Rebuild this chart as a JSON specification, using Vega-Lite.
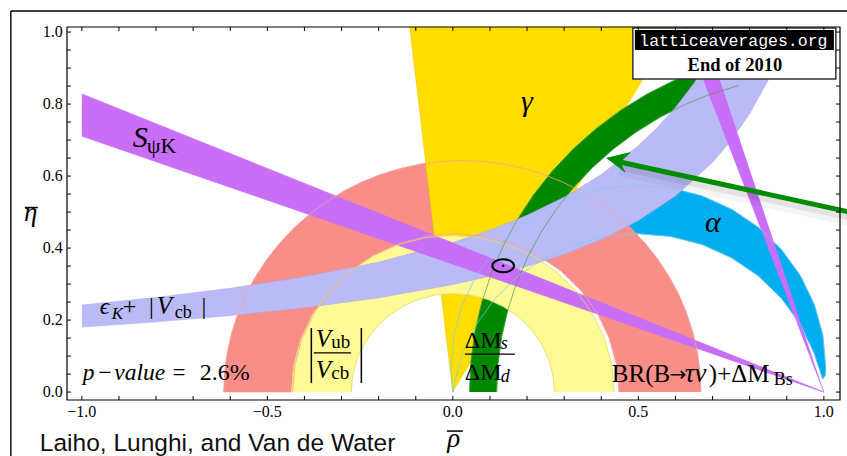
{
  "$schema": "https://vega.github.io/schema/vega-lite/v6.json",
  "width": 773,
  "height": 373,
  "autosize": "none",
  "padding": {"left": 67, "top": 27, "right": 7, "bottom": 56},
  "background": "white",
  "config": {"view": {"stroke": null}},
  "data": {"values": [{}]},
  "datasets": {
    "alpha": [
      {"i":0,"rho":0,"eta":0},{"i":1,"rho":-0.0049,"eta":0.07},{"i":2,"rho":0.0028,"eta":0.1577},{"i":3,"rho":0.0255,"eta":0.2427},
      {"i":4,"rho":0.0628,"eta":0.3225},{"i":5,"rho":0.1132,"eta":0.3945},{"i":6,"rho":0.1755,"eta":0.4568},{"i":7,"rho":0.2476,"eta":0.5072},
      {"i":8,"rho":0.3273,"eta":0.5445},{"i":9,"rho":0.4123,"eta":0.5672},{"i":10,"rho":0.5,"eta":0.5749},{"i":11,"rho":0.5877,"eta":0.5672},
      {"i":12,"rho":0.6727,"eta":0.5445},{"i":13,"rho":0.7524,"eta":0.5072},{"i":14,"rho":0.8245,"eta":0.4568},{"i":15,"rho":0.8868,"eta":0.3945},
      {"i":16,"rho":0.9372,"eta":0.3225},{"i":17,"rho":0.9745,"eta":0.2427},{"i":18,"rho":0.9972,"eta":0.1577},{"i":19,"rho":1.0049,"eta":0.07},
      {"i":20,"rho":1.0035,"eta":0.047},{"i":21,"rho":0.997,"eta":0.036},
      {"i":22,"rho":0.9737,"eta":0.1084},{"i":23,"rho":0.9366,"eta":0.1881},{"i":24,"rho":0.8861,"eta":0.26},{"i":25,"rho":0.824,"eta":0.3221},
      {"i":26,"rho":0.7521,"eta":0.3726},{"i":27,"rho":0.6724,"eta":0.4097},{"i":28,"rho":0.5875,"eta":0.4324},{"i":29,"rho":0.5,"eta":0.4401},
      {"i":30,"rho":0.4125,"eta":0.4324},{"i":31,"rho":0.3276,"eta":0.4097},{"i":32,"rho":0.2479,"eta":0.3726},{"i":33,"rho":0.176,"eta":0.3221},
      {"i":34,"rho":0.1139,"eta":0.26},{"i":35,"rho":0.0634,"eta":0.1881},{"i":36,"rho":0.0263,"eta":0.1084},{"i":37,"rho":0.0036,"eta":0.0235},
      {"i":38,"rho":0,"eta":0}
    ],
    "red": [
      {"i":0,"rho":0.6686,"eta":0},{"i":1,"rho":0.6662,"eta":0.0561},{"i":2,"rho":0.6588,"eta":0.1117},{"i":3,"rho":0.6467,"eta":0.1664},
      {"i":4,"rho":0.6298,"eta":0.2199},{"i":5,"rho":0.6084,"eta":0.2717},{"i":6,"rho":0.5824,"eta":0.3215},{"i":7,"rho":0.5523,"eta":0.3688},
      {"i":8,"rho":0.5181,"eta":0.4133},{"i":9,"rho":0.4803,"eta":0.4547},{"i":10,"rho":0.4389,"eta":0.4925},{"i":11,"rho":0.3944,"eta":0.5267},
      {"i":12,"rho":0.3471,"eta":0.5568},{"i":13,"rho":0.2973,"eta":0.5828},{"i":14,"rho":0.2455,"eta":0.6042},{"i":15,"rho":0.192,"eta":0.6211},
      {"i":16,"rho":0.1373,"eta":0.6332},{"i":17,"rho":0.0817,"eta":0.6406},{"i":18,"rho":0.0256,"eta":0.643},{"i":19,"rho":-0.0305,"eta":0.6406},
      {"i":20,"rho":-0.0861,"eta":0.6332},{"i":21,"rho":-0.1408,"eta":0.6211},{"i":22,"rho":-0.1943,"eta":0.6042},{"i":23,"rho":-0.2461,"eta":0.5828},
      {"i":24,"rho":-0.2959,"eta":0.5568},{"i":25,"rho":-0.3432,"eta":0.5267},{"i":26,"rho":-0.3877,"eta":0.4925},{"i":27,"rho":-0.4291,"eta":0.4547},
      {"i":28,"rho":-0.4669,"eta":0.4133},{"i":29,"rho":-0.5011,"eta":0.3688},{"i":30,"rho":-0.5312,"eta":0.3215},{"i":31,"rho":-0.5572,"eta":0.2717},
      {"i":32,"rho":-0.5786,"eta":0.2199},{"i":33,"rho":-0.5955,"eta":0.1664},{"i":34,"rho":-0.6076,"eta":0.1117},{"i":35,"rho":-0.615,"eta":0.0561},
      {"i":36,"rho":-0.6174,"eta":0},
      {"i":37,"rho":-0.432,"eta":0},{"i":38,"rho":-0.4253,"eta":0.0764},{"i":39,"rho":-0.4055,"eta":0.1505},{"i":40,"rho":-0.373,"eta":0.22},
      {"i":41,"rho":-0.329,"eta":0.2828},{"i":42,"rho":-0.2748,"eta":0.337},{"i":43,"rho":-0.212,"eta":0.381},{"i":44,"rho":-0.1425,"eta":0.4135},
      {"i":45,"rho":-0.0684,"eta":0.4333},{"i":46,"rho":0.008,"eta":0.44},{"i":47,"rho":0.0844,"eta":0.4333},{"i":48,"rho":0.1585,"eta":0.4135},
      {"i":49,"rho":0.228,"eta":0.381},{"i":50,"rho":0.2908,"eta":0.337},{"i":51,"rho":0.345,"eta":0.2828},{"i":52,"rho":0.389,"eta":0.22},
      {"i":53,"rho":0.4215,"eta":0.1505},{"i":54,"rho":0.4413,"eta":0.0764},{"i":55,"rho":0.448,"eta":0}
    ],
    "yellow": [
      {"i":0,"rho":0.435,"eta":0},{"i":1,"rho":0.4284,"eta":0.0755},{"i":2,"rho":0.4088,"eta":0.1488},{"i":3,"rho":0.3767,"eta":0.2175},
      {"i":4,"rho":0.3332,"eta":0.2796},{"i":5,"rho":0.2796,"eta":0.3332},{"i":6,"rho":0.2175,"eta":0.3767},{"i":7,"rho":0.1488,"eta":0.4088},
      {"i":8,"rho":0.0755,"eta":0.4284},{"i":9,"rho":0,"eta":0.435},{"i":10,"rho":-0.0755,"eta":0.4284},{"i":11,"rho":-0.1488,"eta":0.4088},
      {"i":12,"rho":-0.2175,"eta":0.3767},{"i":13,"rho":-0.2796,"eta":0.3332},{"i":14,"rho":-0.3332,"eta":0.2796},{"i":15,"rho":-0.3767,"eta":0.2175},
      {"i":16,"rho":-0.4088,"eta":0.1488},{"i":17,"rho":-0.4284,"eta":0.0755},{"i":18,"rho":-0.435,"eta":0},
      {"i":19,"rho":-0.274,"eta":0},{"i":20,"rho":-0.2698,"eta":0.0476},{"i":21,"rho":-0.2575,"eta":0.0937},{"i":22,"rho":-0.2373,"eta":0.137},
      {"i":23,"rho":-0.2099,"eta":0.1761},{"i":24,"rho":-0.1761,"eta":0.2099},{"i":25,"rho":-0.137,"eta":0.2373},{"i":26,"rho":-0.0937,"eta":0.2575},
      {"i":27,"rho":-0.0476,"eta":0.2698},{"i":28,"rho":0,"eta":0.274},{"i":29,"rho":0.0476,"eta":0.2698},{"i":30,"rho":0.0937,"eta":0.2575},
      {"i":31,"rho":0.137,"eta":0.2373},{"i":32,"rho":0.1761,"eta":0.2099},{"i":33,"rho":0.2099,"eta":0.1761},{"i":34,"rho":0.2373,"eta":0.137},
      {"i":35,"rho":0.2575,"eta":0.0937},{"i":36,"rho":0.2698,"eta":0.0476},{"i":37,"rho":0.274,"eta":0}
    ],
    "gamma": [
      {"i":0,"rho":0,"eta":0},{"i":1,"rho":-0.1166,"eta":1.02},{"i":2,"rho":0.6028,"eta":1.02}
    ],
    "green": [
      {"i":0,"rho":0.045,"eta":0},{"i":1,"rho":0.0486,"eta":0.0833},{"i":2,"rho":0.0595,"eta":0.1658},{"i":3,"rho":0.0776,"eta":0.2472},
      {"i":4,"rho":0.1026,"eta":0.3266},{"i":5,"rho":0.1345,"eta":0.4036},{"i":6,"rho":0.173,"eta":0.4775},{"i":7,"rho":0.2177,"eta":0.5478},
      {"i":8,"rho":0.2685,"eta":0.6139},{"i":9,"rho":0.3247,"eta":0.6753},{"i":10,"rho":0.3861,"eta":0.7315},{"i":11,"rho":0.4522,"eta":0.7823},
      {"i":12,"rho":0.5225,"eta":0.827},{"i":13,"rho":0.5964,"eta":0.8655},{"i":14,"rho":0.6734,"eta":0.8974},{"i":15,"rho":0.7528,"eta":0.9224},
      {"i":16,"rho":0.7717,"eta":0.8519},{"i":17,"rho":0.6984,"eta":0.8288},{"i":18,"rho":0.6273,"eta":0.7994},{"i":19,"rho":0.559,"eta":0.7638},
      {"i":20,"rho":0.4941,"eta":0.7225},{"i":21,"rho":0.4331,"eta":0.6756},{"i":22,"rho":0.3763,"eta":0.6237},{"i":23,"rho":0.3244,"eta":0.5669},
      {"i":24,"rho":0.2775,"eta":0.5059},{"i":25,"rho":0.2362,"eta":0.441},{"i":26,"rho":0.2006,"eta":0.3727},{"i":27,"rho":0.1712,"eta":0.3016},
      {"i":28,"rho":0.1481,"eta":0.2283},{"i":29,"rho":0.1314,"eta":0.1531},{"i":30,"rho":0.1214,"eta":0.0769},{"i":31,"rho":0.118,"eta":0}
    ],
    "epsk": [
      {"i":0,"rho":-1,"eta":0.2417},{"i":1,"rho":-0.8,"eta":0.2626},{"i":2,"rho":-0.6,"eta":0.2881},{"i":3,"rho":-0.4,"eta":0.32},
      {"i":4,"rho":-0.2,"eta":0.3609},{"i":5,"rho":0,"eta":0.4153},{"i":6,"rho":0.1,"eta":0.4497},{"i":7,"rho":0.2,"eta":0.491},
      {"i":8,"rho":0.3,"eta":0.5413},{"i":9,"rho":0.4,"eta":0.604},{"i":10,"rho":0.5,"eta":0.6842},{"i":11,"rho":0.55,"eta":0.7334},
      {"i":12,"rho":0.6,"eta":0.7905},{"i":13,"rho":0.65,"eta":0.8578},{"i":14,"rho":0.7,"eta":0.9381},{"i":15,"rho":0.72,"eta":0.9748},
      {"i":16,"rho":0.74,"eta":1.0146},{"i":17,"rho":0.75,"eta":1.0358},
      {"i":18,"rho":0.92,"eta":1.0448},{"i":19,"rho":0.9,"eta":0.9866},{"i":20,"rho":0.88,"eta":0.9347},{"i":21,"rho":0.85,"eta":0.8666},
      {"i":22,"rho":0.8,"eta":0.7735},{"i":23,"rho":0.75,"eta":0.6991},{"i":24,"rho":0.7,"eta":0.6382},{"i":25,"rho":0.6,"eta":0.5448},
      {"i":26,"rho":0.5,"eta":0.4763},{"i":27,"rho":0.4,"eta":0.424},{"i":28,"rho":0.3,"eta":0.3828},{"i":29,"rho":0.2,"eta":0.3494},
      {"i":30,"rho":0.1,"eta":0.3219},{"i":31,"rho":0,"eta":0.2987},{"i":32,"rho":-0.2,"eta":0.262},{"i":33,"rho":-0.4,"eta":0.2342},
      {"i":34,"rho":-0.6,"eta":0.2125},{"i":35,"rho":-0.8,"eta":0.195},{"i":36,"rho":-1,"eta":0.1806}
    ],
    "spsik": [
      {"i":0,"rho":-1,"eta":0.828},{"i":1,"rho":1,"eta":0},{"i":2,"rho":-1,"eta":0.711}
    ],
    "spsik2": [
      {"i":0,"rho":1,"eta":0},{"i":1,"rho":0.619,"eta":1.02},{"i":2,"rho":0.67,"eta":1.02}
    ],
    "arrow": [
      {"i":0,"rho":0.4501,"eta":0.6389},{"i":1,"rho":1.0701,"eta":0.5}
    ],
    "arrowhead": [
      {"i":0,"rho":0.4143,"eta":0.6492},{"i":1,"rho":0.4771,"eta":0.6647},{"i":2,"rho":0.4501,"eta":0.6389},{"i":3,"rho":0.4636,"eta":0.6103}
    ],
    "xticks": [
      {"v":-1},{"v":-0.9},{"v":-0.8},{"v":-0.7},{"v":-0.6},{"v":-0.5},{"v":-0.4},{"v":-0.3},{"v":-0.2},{"v":-0.1},{"v":0},
      {"v":0.1},{"v":0.2},{"v":0.3},{"v":0.4},{"v":0.5},{"v":0.6},{"v":0.7},{"v":0.8},{"v":0.9},{"v":1}
    ],
    "yticks": [
      {"v":0},{"v":0.05},{"v":0.1},{"v":0.15},{"v":0.2},{"v":0.25},{"v":0.3},{"v":0.35},{"v":0.4},{"v":0.45},{"v":0.5},
      {"v":0.55},{"v":0.6},{"v":0.65},{"v":0.7},{"v":0.75},{"v":0.8},{"v":0.85},{"v":0.9},{"v":0.95},{"v":1}
    ],
    "xlabels": [{"v":-1},{"v":-0.5},{"v":0},{"v":0.5},{"v":1}],
    "ylabels": [{"v":0},{"v":0.2},{"v":0.4},{"v":0.6},{"v":0.8},{"v":1}]
  },
  "layer": [
    {
      "data": {"name": "alpha"},
      "mark": {"type": "line", "fill": "#00adef", "stroke": "#00adef", "strokeWidth": 0.6, "clip": true},
      "encoding": {
        "x": {"field": "rho", "type": "quantitative", "scale": {"domain": [-1.04, 1.0435], "nice": false, "zero": false}, "axis": null},
        "y": {"field": "eta", "type": "quantitative", "scale": {"domain": [-0.022, 1.014], "nice": false, "zero": false}, "axis": null},
        "order": {"field": "i", "type": "quantitative"}
      }
    },
    {
      "data": {"name": "red"},
      "mark": {"type": "line", "fill": "#f98e89", "stroke": "#f98e89", "strokeWidth": 0.5, "clip": true},
      "encoding": {
        "x": {"field": "rho", "type": "quantitative", "scale": {"domain": [-1.04, 1.0435], "nice": false, "zero": false}, "axis": null},
        "y": {"field": "eta", "type": "quantitative", "scale": {"domain": [-0.022, 1.014], "nice": false, "zero": false}, "axis": null},
        "order": {"field": "i", "type": "quantitative"}
      }
    },
    {
      "data": {"name": "gamma"},
      "mark": {"type": "line", "fill": "#ffde00", "stroke": "#f2d000", "strokeWidth": 0.8, "clip": true},
      "encoding": {
        "x": {"field": "rho", "type": "quantitative", "axis": null},
        "y": {"field": "eta", "type": "quantitative", "axis": null},
        "order": {"field": "i", "type": "quantitative"}
      }
    },
    {
      "data": {"name": "green"},
      "mark": {"type": "line", "fill": "#008900", "stroke": "#008900", "strokeWidth": 0.5, "clip": true},
      "encoding": {
        "x": {"field": "rho", "type": "quantitative", "axis": null},
        "y": {"field": "eta", "type": "quantitative", "axis": null},
        "order": {"field": "i", "type": "quantitative"}
      }
    },
    {
      "data": {"name": "yellow"},
      "mark": {"type": "line", "fill": "#fffa96", "stroke": "#fffa96", "strokeWidth": 0.5, "clip": true},
      "encoding": {
        "x": {"field": "rho", "type": "quantitative", "axis": null},
        "y": {"field": "eta", "type": "quantitative", "axis": null},
        "order": {"field": "i", "type": "quantitative"}
      }
    },
    {
      "data": {"name": "epsk"},
      "mark": {"type": "line", "fill": "#babbf6", "stroke": "#a9aaec", "strokeWidth": 0.6, "clip": true},
      "encoding": {
        "x": {"field": "rho", "type": "quantitative", "axis": null},
        "y": {"field": "eta", "type": "quantitative", "axis": null},
        "order": {"field": "i", "type": "quantitative"}
      }
    },
    {
      "data": {"name": "spsik"},
      "mark": {"type": "line", "fill": "#c86ef7", "stroke": "#c86ef7", "strokeWidth": 0.8, "clip": true},
      "encoding": {
        "x": {"field": "rho", "type": "quantitative", "axis": null},
        "y": {"field": "eta", "type": "quantitative", "axis": null},
        "order": {"field": "i", "type": "quantitative"}
      }
    },
    {
      "data": {"name": "spsik2"},
      "mark": {"type": "line", "fill": "#c86ef7", "stroke": "#c86ef7", "strokeWidth": 0.8, "clip": true},
      "encoding": {
        "x": {"field": "rho", "type": "quantitative", "axis": null},
        "y": {"field": "eta", "type": "quantitative", "axis": null},
        "order": {"field": "i", "type": "quantitative"}
      }
    },
    {
      "data": {"name": "red"},
      "transform": [{"filter": "datum.i <= 36"}],
      "mark": {"type": "line", "stroke": "#f5a29b", "strokeWidth": 0.8, "clip": true},
      "encoding": {
        "x": {"field": "rho", "type": "quantitative", "axis": null},
        "y": {"field": "eta", "type": "quantitative", "axis": null},
        "order": {"field": "i", "type": "quantitative"}
      }
    },
    {
      "data": {"name": "red"},
      "transform": [{"filter": "datum.i >= 37"}],
      "mark": {"type": "line", "stroke": "#f5a29b", "strokeWidth": 0.8, "clip": true},
      "encoding": {
        "x": {"field": "rho", "type": "quantitative", "axis": null},
        "y": {"field": "eta", "type": "quantitative", "axis": null},
        "order": {"field": "i", "type": "quantitative"}
      }
    },
    {
      "data": {"name": "yellow"},
      "transform": [{"filter": "datum.i <= 18"}],
      "mark": {"type": "line", "stroke": "#e4da5c", "strokeWidth": 0.8, "clip": true},
      "encoding": {
        "x": {"field": "rho", "type": "quantitative", "axis": null},
        "y": {"field": "eta", "type": "quantitative", "axis": null},
        "order": {"field": "i", "type": "quantitative"}
      }
    },
    {
      "data": {"name": "yellow"},
      "transform": [{"filter": "datum.i >= 19"}],
      "mark": {"type": "line", "stroke": "#e4da5c", "strokeWidth": 0.8, "clip": true},
      "encoding": {
        "x": {"field": "rho", "type": "quantitative", "axis": null},
        "y": {"field": "eta", "type": "quantitative", "axis": null},
        "order": {"field": "i", "type": "quantitative"}
      }
    },
    {
      "data": {"name": "green"},
      "transform": [{"filter": "datum.i <= 15"}],
      "mark": {"type": "line", "stroke": "#4f9e4f", "strokeWidth": 0.7, "clip": true},
      "encoding": {
        "x": {"field": "rho", "type": "quantitative", "axis": null},
        "y": {"field": "eta", "type": "quantitative", "axis": null},
        "order": {"field": "i", "type": "quantitative"}
      }
    },
    {
      "data": {"name": "green"},
      "transform": [{"filter": "datum.i >= 16"}],
      "mark": {"type": "line", "stroke": "#4f9e4f", "strokeWidth": 0.7, "clip": true},
      "encoding": {
        "x": {"field": "rho", "type": "quantitative", "axis": null},
        "y": {"field": "eta", "type": "quantitative", "axis": null},
        "order": {"field": "i", "type": "quantitative"}
      }
    },
    {
      "data": {"name": "alpha"},
      "transform": [{"filter": "datum.i <= 19"}],
      "mark": {"type": "line", "stroke": "#7ccaf2", "strokeWidth": 0.7, "clip": true},
      "encoding": {
        "x": {"field": "rho", "type": "quantitative", "axis": null},
        "y": {"field": "eta", "type": "quantitative", "axis": null},
        "order": {"field": "i", "type": "quantitative"}
      }
    },
    {
      "data": {"name": "alpha"},
      "transform": [{"filter": "datum.i >= 21"}],
      "mark": {"type": "line", "stroke": "#7ccaf2", "strokeWidth": 0.7, "clip": true},
      "encoding": {
        "x": {"field": "rho", "type": "quantitative", "axis": null},
        "y": {"field": "eta", "type": "quantitative", "axis": null},
        "order": {"field": "i", "type": "quantitative"}
      }
    },
    {
      "mark": {"type": "point", "shape": "M -1 0 A 1 0.6 0 1 1 1 0 A 1 0.6 0 1 1 -1 0 Z", "size": 470, "filled": false, "stroke": "#000", "strokeWidth": 2, "opacity": 1},
      "encoding": {"x": {"datum": 0.1356, "type": "quantitative", "axis": null}, "y": {"datum": 0.3508, "type": "quantitative", "axis": null}}
    },
    {
      "mark": {"type": "point", "shape": "circle", "size": 6, "filled": true, "color": "#000", "opacity": 1},
      "encoding": {"x": {"datum": 0.1356, "type": "quantitative", "axis": null}, "y": {"datum": 0.3508, "type": "quantitative", "axis": null}}
    },
    {
      "mark": {"type": "text", "text": "γ", "font": "Liberation Serif", "fontSize": 30, "fontStyle": "italic", "align": "center", "baseline": "alphabetic", "color": "#000"},
      "encoding": {"x": {"datum": 0.1995, "type": "quantitative", "axis": null}, "y": {"datum": 0.7806, "type": "quantitative", "axis": null}}
    },
    {
      "mark": {"type": "text", "text": "α", "font": "Liberation Serif", "fontSize": 30, "fontStyle": "italic", "align": "center", "baseline": "alphabetic", "color": "#000"},
      "encoding": {"x": {"datum": 0.7008, "type": "quantitative", "axis": null}, "y": {"datum": 0.4444, "type": "quantitative", "axis": null}}
    },
    {
      "mark": {"type": "text", "text": "S", "font": "Liberation Serif", "fontSize": 30, "fontStyle": "italic", "align": "left", "baseline": "alphabetic", "color": "#000"},
      "encoding": {"x": {"datum": -0.8625, "type": "quantitative", "axis": null}, "y": {"datum": 0.6806, "type": "quantitative", "axis": null}}
    },
    {
      "mark": {"type": "text", "text": "ψK", "font": "Liberation Serif", "fontSize": 22, "align": "left", "baseline": "alphabetic", "color": "#000"},
      "encoding": {"x": {"datum": -0.8248, "type": "quantitative", "axis": null}, "y": {"datum": 0.6639, "type": "quantitative", "axis": null}}
    },
    {
      "mark": {"type": "text", "text": "ϵ", "font": "Liberation Serif, DejaVu Serif", "fontSize": 24, "fontStyle": "italic", "align": "left", "baseline": "alphabetic", "color": "#000"},
      "encoding": {"x": {"datum": -0.9515, "type": "quantitative", "axis": null}, "y": {"datum": 0.2167, "type": "quantitative", "axis": null}}
    },
    {
      "mark": {"type": "text", "text": "K", "font": "Liberation Serif", "fontSize": 17, "fontStyle": "italic", "align": "left", "baseline": "alphabetic", "color": "#000"},
      "encoding": {"x": {"datum": -0.9191, "type": "quantitative", "axis": null}, "y": {"datum": 0.2028, "type": "quantitative", "axis": null}}
    },
    {
      "mark": {"type": "text", "text": "+", "font": "Liberation Serif", "fontSize": 24, "align": "left", "baseline": "alphabetic", "color": "#000"},
      "encoding": {"x": {"datum": -0.8895, "type": "quantitative", "axis": null}, "y": {"datum": 0.2167, "type": "quantitative", "axis": null}}
    },
    {
      "mark": {"type": "text", "text": "|", "font": "Liberation Serif", "fontSize": 24, "align": "center", "baseline": "alphabetic", "color": "#000"},
      "encoding": {"x": {"datum": -0.8127, "type": "quantitative", "axis": null}, "y": {"datum": 0.2167, "type": "quantitative", "axis": null}}
    },
    {
      "mark": {"type": "text", "text": "V", "font": "Liberation Serif", "fontSize": 25, "fontStyle": "italic", "align": "left", "baseline": "alphabetic", "color": "#000"},
      "encoding": {"x": {"datum": -0.7978, "type": "quantitative", "axis": null}, "y": {"datum": 0.2167, "type": "quantitative", "axis": null}}
    },
    {
      "mark": {"type": "text", "text": "cb", "font": "Liberation Serif", "fontSize": 18, "align": "left", "baseline": "alphabetic", "color": "#000"},
      "encoding": {"x": {"datum": -0.7493, "type": "quantitative", "axis": null}, "y": {"datum": 0.2056, "type": "quantitative", "axis": null}}
    },
    {
      "mark": {"type": "text", "text": "|", "font": "Liberation Serif", "fontSize": 24, "align": "center", "baseline": "alphabetic", "color": "#000"},
      "encoding": {"x": {"datum": -0.6712, "type": "quantitative", "axis": null}, "y": {"datum": 0.2167, "type": "quantitative", "axis": null}}
    },
    {
      "mark": {"type": "rule", "stroke": "#000", "strokeWidth": 1.5},
      "encoding": {"x": {"datum": -0.3814, "type": "quantitative", "axis": null}, "y": {"datum": 0.1778, "type": "quantitative", "axis": null}, "y2": {"datum": 0.025}}
    },
    {
      "mark": {"type": "rule", "stroke": "#000", "strokeWidth": 1.5},
      "encoding": {"x": {"datum": -0.2466, "type": "quantitative", "axis": null}, "y": {"datum": 0.1778, "type": "quantitative", "axis": null}, "y2": {"datum": 0.025}}
    },
    {
      "mark": {"type": "rule", "stroke": "#000", "strokeWidth": 1.2},
      "encoding": {"x": {"datum": -0.3747, "type": "quantitative", "axis": null}, "x2": {"datum": -0.2749}, "y": {"datum": 0.109, "type": "quantitative", "axis": null}}
    },
    {
      "mark": {"type": "text", "text": "V", "font": "Liberation Serif", "fontSize": 25, "fontStyle": "italic", "align": "left", "baseline": "alphabetic", "color": "#000"},
      "encoding": {"x": {"datum": -0.3693, "type": "quantitative", "axis": null}, "y": {"datum": 0.125, "type": "quantitative", "axis": null}}
    },
    {
      "mark": {"type": "text", "text": "ub", "font": "Liberation Serif", "fontSize": 19, "align": "left", "baseline": "alphabetic", "color": "#000"},
      "encoding": {"x": {"datum": -0.3275, "type": "quantitative", "axis": null}, "y": {"datum": 0.122, "type": "quantitative", "axis": null}}
    },
    {
      "mark": {"type": "text", "text": "V", "font": "Liberation Serif", "fontSize": 25, "fontStyle": "italic", "align": "left", "baseline": "alphabetic", "color": "#000"},
      "encoding": {"x": {"datum": -0.3693, "type": "quantitative", "axis": null}, "y": {"datum": 0.0389, "type": "quantitative", "axis": null}}
    },
    {
      "mark": {"type": "text", "text": "cb", "font": "Liberation Serif", "fontSize": 19, "align": "left", "baseline": "alphabetic", "color": "#000"},
      "encoding": {"x": {"datum": -0.3275, "type": "quantitative", "axis": null}, "y": {"datum": 0.0359, "type": "quantitative", "axis": null}}
    },
    {
      "mark": {"type": "rule", "stroke": "#000", "strokeWidth": 1.2},
      "encoding": {"x": {"datum": 0.0323, "type": "quantitative", "axis": null}, "x2": {"datum": 0.1671}, "y": {"datum": 0.1056, "type": "quantitative", "axis": null}}
    },
    {
      "mark": {"type": "text", "text": "ΔM", "font": "Liberation Serif", "fontSize": 24, "align": "left", "baseline": "alphabetic", "color": "#000"},
      "encoding": {"x": {"datum": 0.0323, "type": "quantitative", "axis": null}, "y": {"datum": 0.1222, "type": "quantitative", "axis": null}}
    },
    {
      "mark": {"type": "text", "text": "s", "font": "Liberation Serif", "fontSize": 18, "fontStyle": "italic", "align": "left", "baseline": "alphabetic", "color": "#000"},
      "encoding": {"x": {"datum": 0.1294, "type": "quantitative", "axis": null}, "y": {"datum": 0.1194, "type": "quantitative", "axis": null}}
    },
    {
      "mark": {"type": "text", "text": "ΔM", "font": "Liberation Serif", "fontSize": 24, "align": "left", "baseline": "alphabetic", "color": "#000"},
      "encoding": {"x": {"datum": 0.0323, "type": "quantitative", "axis": null}, "y": {"datum": 0.0333, "type": "quantitative", "axis": null}}
    },
    {
      "mark": {"type": "text", "text": "d", "font": "Liberation Serif", "fontSize": 18, "fontStyle": "italic", "align": "left", "baseline": "alphabetic", "color": "#000"},
      "encoding": {"x": {"datum": 0.1294, "type": "quantitative", "axis": null}, "y": {"datum": 0.0278, "type": "quantitative", "axis": null}}
    },
    {
      "mark": {"type": "text", "text": "p\u200a−\u200avalue", "font": "Liberation Serif", "fontSize": 23.5, "fontStyle": "italic", "align": "left", "baseline": "alphabetic", "color": "#000"},
      "encoding": {"x": {"datum": -0.9973, "type": "quantitative", "axis": null}, "y": {"datum": 0.0333, "type": "quantitative", "axis": null}}
    },
    {
      "mark": {"type": "text", "text": "=", "font": "Liberation Serif", "fontSize": 23, "align": "center", "baseline": "alphabetic", "color": "#000"},
      "encoding": {"x": {"datum": -0.7385, "type": "quantitative", "axis": null}, "y": {"datum": 0.0333, "type": "quantitative", "axis": null}}
    },
    {
      "mark": {"type": "text", "text": "2.6%", "font": "Liberation Serif", "fontSize": 24, "align": "left", "baseline": "alphabetic", "color": "#000"},
      "encoding": {"x": {"datum": -0.6819, "type": "quantitative", "axis": null}, "y": {"datum": 0.0333, "type": "quantitative", "axis": null}}
    },
    {
      "mark": {"type": "text", "text": "BR(B", "font": "Liberation Serif", "fontSize": 25, "align": "left", "baseline": "alphabetic", "color": "#000"},
      "encoding": {"x": {"datum": 0.4286, "type": "quantitative", "axis": null}, "y": {"datum": 0.0278, "type": "quantitative", "axis": null}}
    },
    {
      "mark": {"type": "text", "text": "→", "font": "DejaVu Sans", "fontSize": 20, "align": "center", "baseline": "alphabetic", "color": "#000"},
      "encoding": {"x": {"datum": 0.6065, "type": "quantitative", "axis": null}, "y": {"datum": 0.0306, "type": "quantitative", "axis": null}}
    },
    {
      "mark": {"type": "text", "text": "τν", "font": "Liberation Serif", "fontSize": 27, "fontStyle": "italic", "align": "left", "baseline": "alphabetic", "color": "#000"},
      "encoding": {"x": {"datum": 0.6253, "type": "quantitative", "axis": null}, "y": {"datum": 0.0278, "type": "quantitative", "axis": null}}
    },
    {
      "mark": {"type": "text", "text": ")+ΔM", "font": "Liberation Serif", "fontSize": 25, "align": "left", "baseline": "alphabetic", "color": "#000"},
      "encoding": {"x": {"datum": 0.69, "type": "quantitative", "axis": null}, "y": {"datum": 0.0278, "type": "quantitative", "axis": null}}
    },
    {
      "mark": {"type": "text", "text": "Bs", "font": "Liberation Serif", "fontSize": 18, "align": "left", "baseline": "alphabetic", "color": "#000"},
      "encoding": {"x": {"datum": 0.8652, "type": "quantitative", "axis": null}, "y": {"datum": 0.0194, "type": "quantitative", "axis": null}}
    },
    {
      "mark": {"type": "rect", "fill": "#fff", "stroke": "#333", "strokeWidth": 1.5},
      "encoding": {"x": {"datum": 0.4852, "type": "quantitative", "axis": null}, "x2": {"datum": 1.0323}, "y": {"datum": 0.8694, "type": "quantitative", "axis": null}, "y2": {"datum": 1.0111}}
    },
    {
      "mark": {"type": "rect", "fill": "#000"},
      "encoding": {"x": {"datum": 0.4906, "type": "quantitative", "axis": null}, "x2": {"datum": 1.027}, "y": {"datum": 0.95, "type": "quantitative", "axis": null}, "y2": {"datum": 1.0056}}
    },
    {
      "mark": {"type": "text", "text": "latticeaverages.org", "font": "Liberation Mono", "fontSize": 16.5, "align": "center", "baseline": "middle", "color": "#fff"},
      "encoding": {"x": {"datum": 0.7561, "type": "quantitative", "axis": null}, "y": {"datum": 0.975, "type": "quantitative", "axis": null}}
    },
    {
      "mark": {"type": "text", "text": "End of 2010", "font": "Liberation Serif", "fontSize": 18.5, "fontWeight": "bold", "align": "center", "baseline": "alphabetic", "color": "#000"},
      "encoding": {"x": {"datum": 0.7601, "type": "quantitative", "axis": null}, "y": {"datum": 0.8917, "type": "quantitative", "axis": null}}
    },
    {
      "data": {"name": "arrow"},
      "mark": {"type": "line", "stroke": "#000", "strokeWidth": 14, "opacity": 0.04, "yOffset": 7, "clip": false},
      "encoding": {
        "x": {"field": "rho", "type": "quantitative", "axis": null},
        "y": {"field": "eta", "type": "quantitative", "axis": null},
        "order": {"field": "i", "type": "quantitative"}
      }
    },
    {
      "data": {"name": "arrow"},
      "mark": {"type": "line", "stroke": "#000", "strokeWidth": 7, "opacity": 0.07, "yOffset": 5, "clip": false},
      "encoding": {
        "x": {"field": "rho", "type": "quantitative", "axis": null},
        "y": {"field": "eta", "type": "quantitative", "axis": null},
        "order": {"field": "i", "type": "quantitative"}
      }
    },
    {
      "data": {"name": "arrow"},
      "mark": {"type": "line", "stroke": "#008c00", "strokeWidth": 5, "clip": false},
      "encoding": {
        "x": {"field": "rho", "type": "quantitative", "axis": null},
        "y": {"field": "eta", "type": "quantitative", "axis": null},
        "order": {"field": "i", "type": "quantitative"}
      }
    },
    {
      "data": {"name": "arrowhead"},
      "mark": {"type": "line", "fill": "#008c00", "stroke": "#008c00", "strokeWidth": 1, "clip": false},
      "encoding": {
        "x": {"field": "rho", "type": "quantitative", "axis": null},
        "y": {"field": "eta", "type": "quantitative", "axis": null},
        "order": {"field": "i", "type": "quantitative"}
      }
    },
    {
      "data": {"name": "xticks"},
      "mark": {"type": "tick", "orient": "vertical", "size": 8, "thickness": 1, "color": "#000", "opacity": 1, "clip": true},
      "encoding": {"x": {"field": "v", "type": "quantitative", "axis": null}, "y": {"datum": -0.022, "type": "quantitative", "axis": null}}
    },
    {
      "data": {"name": "xticks"},
      "mark": {"type": "tick", "orient": "vertical", "size": 8, "thickness": 1, "color": "#000", "opacity": 1, "clip": true},
      "encoding": {"x": {"field": "v", "type": "quantitative", "axis": null}, "y": {"datum": 1.014, "type": "quantitative", "axis": null}}
    },
    {
      "data": {"name": "yticks"},
      "mark": {"type": "tick", "orient": "horizontal", "size": 8, "thickness": 1, "color": "#000", "opacity": 1, "clip": true},
      "encoding": {"y": {"field": "v", "type": "quantitative", "axis": null}, "x": {"datum": -1.04, "type": "quantitative", "axis": null}}
    },
    {
      "data": {"name": "yticks"},
      "mark": {"type": "tick", "orient": "horizontal", "size": 8, "thickness": 1, "color": "#000", "opacity": 1, "clip": true},
      "encoding": {"y": {"field": "v", "type": "quantitative", "axis": null}, "x": {"datum": 1.0435, "type": "quantitative", "axis": null}}
    },
    {
      "data": {"name": "xlabels"},
      "mark": {"type": "text", "font": "Liberation Serif", "fontSize": 16, "align": "center", "baseline": "top", "color": "#000"},
      "encoding": {
        "x": {"field": "v", "type": "quantitative", "axis": null},
        "y": {"datum": -0.0319, "type": "quantitative", "axis": null},
        "text": {"field": "v", "type": "quantitative", "format": ".1f"}
      }
    },
    {
      "data": {"name": "ylabels"},
      "mark": {"type": "text", "font": "Liberation Serif", "fontSize": 16, "align": "right", "baseline": "middle", "color": "#000"},
      "encoding": {
        "y": {"field": "v", "type": "quantitative", "axis": null},
        "x": {"datum": -1.0512, "type": "quantitative", "axis": null},
        "text": {"field": "v", "type": "quantitative", "format": ".1f"}
      }
    },
    {
      "mark": {"type": "rect", "filled": false, "color": "#000", "strokeWidth": 1.2},
      "encoding": {"x": {"datum": -1.04, "type": "quantitative", "axis": null}, "x2": {"datum": 1.0435}, "y": {"datum": -0.022, "type": "quantitative", "axis": null}, "y2": {"datum": 1.014}}
    },
    {
      "mark": {"type": "rule", "stroke": "#000", "strokeWidth": 1.4},
      "encoding": {"x": {"datum": -1.1914, "type": "quantitative", "axis": null}, "y": {"datum": 1.0583, "type": "quantitative", "axis": null}, "y2": {"datum": -0.3}}
    },
    {
      "mark": {"type": "rule", "stroke": "#000", "strokeWidth": 1.4},
      "encoding": {"x": {"datum": -1.1914, "type": "quantitative", "axis": null}, "x2": {"datum": 1.3}, "y": {"datum": 1.0583, "type": "quantitative", "axis": null}}
    },
    {
      "mark": {"type": "text", "text": "η", "font": "Liberation Serif", "fontSize": 27, "fontStyle": "italic", "align": "center", "baseline": "alphabetic", "color": "#000"},
      "encoding": {"x": {"datum": -1.1375, "type": "quantitative", "axis": null}, "y": {"datum": 0.475, "type": "quantitative", "axis": null}}
    },
    {
      "mark": {"type": "rule", "stroke": "#000", "strokeWidth": 1.5},
      "encoding": {"x": {"datum": -1.1536, "type": "quantitative", "axis": null}, "x2": {"datum": -1.1186}, "y": {"datum": 0.5125, "type": "quantitative", "axis": null}}
    },
    {
      "mark": {"type": "text", "text": "ρ", "font": "Liberation Serif", "fontSize": 27, "fontStyle": "italic", "align": "center", "baseline": "alphabetic", "color": "#000"},
      "encoding": {"x": {"datum": 0.0027, "type": "quantitative", "axis": null}, "y": {"datum": -0.1528, "type": "quantitative", "axis": null}}
    },
    {
      "mark": {"type": "rule", "stroke": "#000", "strokeWidth": 1.5},
      "encoding": {"x": {"datum": -0.0162, "type": "quantitative", "axis": null}, "x2": {"datum": 0.027}, "y": {"datum": -0.1083, "type": "quantitative", "axis": null}}
    },
    {
      "mark": {"type": "text", "text": "Laiho, Lunghi, and Van de Water", "font": "Liberation Sans", "fontSize": 24.5, "align": "left", "baseline": "alphabetic", "color": "#111"},
      "encoding": {"x": {"datum": -1.1132, "type": "quantitative", "axis": null}, "y": {"datum": -0.1639, "type": "quantitative", "axis": null}}
    }
  ]
}
